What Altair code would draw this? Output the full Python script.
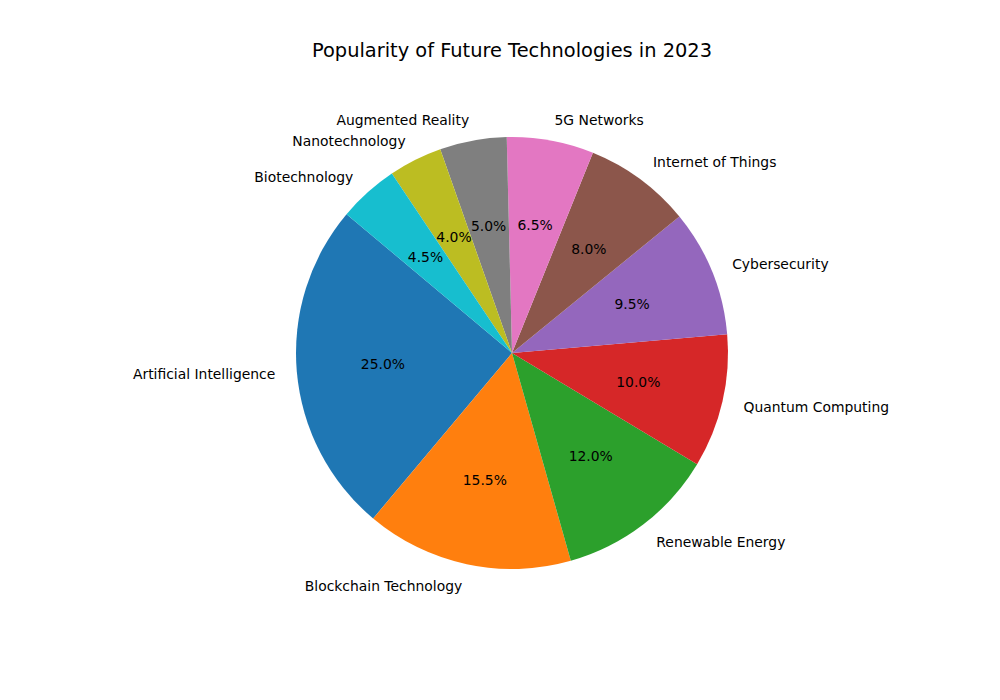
import altair as alt
import pandas as pd
import math

categories = ["Artificial Intelligence", "Blockchain Technology", "Renewable Energy",
              "Quantum Computing", "Cybersecurity", "Internet of Things", "5G Networks",
              "Augmented Reality", "Nanotechnology", "Biotechnology"]
values = [25.0, 15.5, 12.0, 10.0, 9.5, 8.0, 6.5, 5.0, 4.0, 4.5]
colors = ["#1f77b4", "#ff7f0e", "#2ca02c", "#d62728", "#9467bd",
          "#8c564b", "#e377c2", "#7f7f7f", "#bcbd22", "#17becf"]

start_deg = 310.0  # matplotlib startangle=140, counterclockwise
start = math.radians(start_deg)

df = pd.DataFrame({"category": categories, "value": values})
n = len(df)
# matplotlib draws counterclockwise; vega draws clockwise -> reverse the stack order
df["ord"] = [n - 1 - i for i in range(n)]
total = sum(values)
df_sorted = df.sort_values("ord")
cum = 0.0
mids = {}
for _, r in df_sorted.iterrows():
    mid = start_deg + (cum + r["value"] / 2) / total * 360
    mids[r["category"]] = mid
    cum += r["value"]
df["right"] = [math.sin(math.radians(mids[c])) > 0 for c in df["category"]]
df["label_r"] = [c if rt else "" for c, rt in zip(df["category"], df["right"])]
df["label_l"] = [c if not rt else "" for c, rt in zip(df["category"], df["right"])]
df["pct"] = [f"{v / total * 100:.1f}%" for v in values]

R = 216
theta = alt.Theta("value:Q", stack=True,
                  scale=alt.Scale(domain=[0, total], range=[start, start + 2 * math.pi]))
order = alt.Order("ord:Q", sort="ascending")

base = alt.Chart(df).encode(theta=theta, order=order)

arcs = base.mark_arc(outerRadius=R).encode(
    color=alt.Color("category:N", scale=alt.Scale(domain=categories, range=colors), legend=None)
)
font = "DejaVu Sans"
fs = 13.9
lab_r = base.mark_text(radius=R * 1.1, align="left", baseline="middle", font=font,
                       fontSize=fs, color="black", dy=1.5).encode(text="label_r:N")
lab_l = base.mark_text(radius=R * 1.1, align="right", baseline="middle", font=font,
                       fontSize=fs, color="black", dy=1.5).encode(text="label_l:N")
pct = base.mark_text(radius=R * 0.6, align="center", baseline="middle", font=font,
                     fontSize=fs, color="black", dy=1).encode(text="pct:N")

chart = alt.layer(arcs, lab_r, lab_l, pct).properties(
    width=976, height=566,
    title=alt.TitleParams("Popularity of Future Technologies in 2023", font=font,
                          fontSize=19.4, fontWeight="normal", color="black",
                          anchor="middle", offset=9),
    autosize=alt.AutoSizeParams(type="none"),
    padding={"left": 24, "top": 70, "right": 0, "bottom": 64},
    background="white",
).configure_view(stroke=None)

chart.save("out.html", embed_options={"renderer": "svg", "actions": False})
